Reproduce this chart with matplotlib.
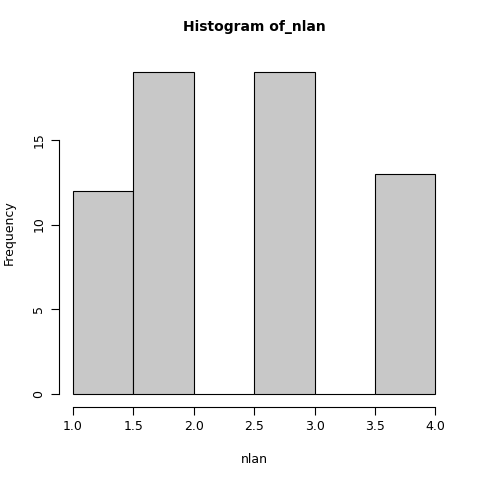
import numpy as np
import matplotlib.pyplot as plt

edges = [1.0, 1.5, 2.0, 2.5, 3.0, 3.5, 4.0]
counts = [12, 19, 0, 19, 0, 13]

fig = plt.figure(figsize=(4.8, 4.8), dpi=100)
ax = fig.add_axes([0.122, 0.152, 0.815, 0.725])
ax.bar(edges[:-1], counts, width=0.5, align='edge', color='#c8c8c8',
       edgecolor='black', linewidth=0.8)
ax.set_xlim(0.88, 4.12)
ax.set_ylim(-0.76, 19.76)
for s in ['top', 'right']:
    ax.spines[s].set_visible(False)
ax.spines['bottom'].set_bounds(1.0, 4.0)
ax.spines['left'].set_bounds(0, 15)
ax.set_xticks(np.arange(1.0, 4.01, 0.5))
ax.set_xticklabels(['1.0', '1.5', '2.0', '2.5', '3.0', '3.5', '4.0'])
ax.set_yticks([0, 5, 10, 15])
ax.tick_params(axis='y', labelrotation=90, length=6)
ax.tick_params(axis='x', length=6)
for t in ax.get_yticklabels():
    t.set_va('center')
ax.tick_params(labelsize=9)
ax.set_xlabel('nlan', fontsize=9, labelpad=14)
ax.set_ylabel('Frequency', fontsize=9, labelpad=12)
ax.set_title('Histogram of_nlan', fontsize=10, fontweight='bold', pad=20)
fig.savefig('out.png')
